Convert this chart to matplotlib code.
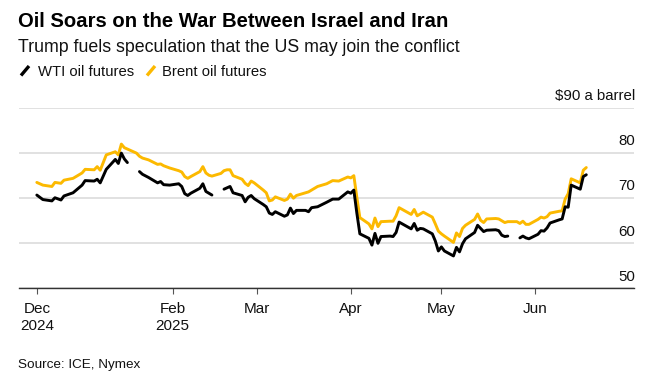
import numpy as np
import pandas as pd
import matplotlib
matplotlib.use("Agg")
import matplotlib.pyplot as plt
import matplotlib.dates as mdates
from matplotlib.lines import Line2D

plt.rcParams['font.family'] = ['Liberation Sans', 'DejaVu Sans']

fechas = [
    "2024-12-18", "2024-12-20", "2024-12-23", "2024-12-24", "2024-12-26", "2024-12-27", "2024-12-30",
    "2025-01-02", "2025-01-03", "2025-01-06", "2025-01-07", "2025-01-08", "2025-01-10", "2025-01-13",
    "2025-01-14", "2025-01-15", "2025-01-16", "2025-01-17", "2025-01-20", "2025-01-21", "2025-01-22",
    "2025-01-24", "2025-01-27", "2025-01-28", "2025-01-29", "2025-01-31",
    "2025-02-03", "2025-02-04", "2025-02-05", "2025-02-06", "2025-02-07", "2025-02-10", "2025-02-11",
    "2025-02-12", "2025-02-13", "2025-02-14", "2025-02-17", "2025-02-18", "2025-02-19", "2025-02-20",
    "2025-02-21", "2025-02-24", "2025-02-25", "2025-02-26", "2025-02-27", "2025-02-28",
    "2025-03-03", "2025-03-04", "2025-03-05", "2025-03-06", "2025-03-07", "2025-03-10", "2025-03-11",
    "2025-03-12", "2025-03-13", "2025-03-14", "2025-03-17", "2025-03-18", "2025-03-19", "2025-03-21",
    "2025-03-24", "2025-03-26", "2025-03-28", "2025-03-31",
    "2025-04-01", "2025-04-02", "2025-04-03", "2025-04-04", "2025-04-07", "2025-04-08", "2025-04-09",
    "2025-04-10", "2025-04-11", "2025-04-14", "2025-04-15", "2025-04-16", "2025-04-17", "2025-04-21",
    "2025-04-22", "2025-04-23", "2025-04-24", "2025-04-25", "2025-04-28", "2025-04-29", "2025-04-30",
    "2025-05-01", "2025-05-02", "2025-05-05", "2025-05-06", "2025-05-07", "2025-05-08", "2025-05-09",
    "2025-05-12", "2025-05-13", "2025-05-14", "2025-05-15", "2025-05-16", "2025-05-19", "2025-05-20",
    "2025-05-21", "2025-05-22", "2025-05-23", "2025-05-26", "2025-05-27", "2025-05-28", "2025-05-29",
    "2025-05-30",
    "2025-06-02", "2025-06-03", "2025-06-04", "2025-06-05", "2025-06-06", "2025-06-09", "2025-06-10",
    "2025-06-11", "2025-06-12", "2025-06-13", "2025-06-16", "2025-06-17", "2025-06-18",
]

# None = sin cotizacion (festivo en EEUU), el trazo se corta
wti = [
    70.7, 69.7, 69.4, 70.1, 69.6, 70.5, 71.2,
    72.9, 73.9, 73.8, 74.2, 73.4, 76.4, 78.6, 77.7, 80.0, 78.7, 77.9, None, 75.9, 75.3,
    74.6, 73.4, 73.7, 73.0, 72.9,
    73.2, 72.6, 71.0, 70.6, 71.1, 72.2, 73.2, 71.5, 71.1, 70.7, None, 72.0, 72.3, 72.6,
    71.2, 70.6, 69.2, 70.2, 70.6, 69.9,
    68.6, 68.1, 66.7, 66.4, 67.0, 66.0, 66.3, 67.8, 66.6, 67.3, 67.3, 67.0, 67.9, 68.1,
    69.1, 69.8, 69.8, 71.4,
    71.1, 71.8, 66.7, 62.1, 61.1, 59.6, 62.2, 60.0, 61.5, 61.6, 61.5, 62.4, 64.7, 63.2,
    64.4, 62.9, 63.3, 63.2, 62.1, 60.5, 58.3,
    59.2, 58.3, 57.2, 59.1, 58.1, 59.9, 61.0, 62.4, 64.0, 63.3, 62.6, 62.9, 63.0, 62.8,
    61.8, 61.5, 61.6, None, 61.2, 61.6, 61.2, 61.0,
    62.0, 62.8, 62.7, 63.4, 64.5, 65.2, 65.4, 68.1, 68.0, 72.9, 72.0, 74.8, 75.2,
]

brent = [
    73.5, 72.9, 72.6, 73.5, 73.3, 74.0, 74.4,
    75.6, 76.4, 76.3, 77.0, 76.2, 79.6, 80.3, 79.6, 82.0, 81.2, 80.9, 80.0, 79.3, 78.9,
    78.5, 77.5, 77.6, 77.2, 76.7,
    76.1, 75.8, 74.8, 74.4, 74.8, 75.9, 77.0, 75.6, 75.1, 74.9, 75.5, 76.1, 76.3, 76.3,
    75.0, 74.2, 73.3, 72.8, 73.8, 73.4,
    71.8, 71.2, 69.4, 69.6, 70.3, 69.5, 69.8, 70.9, 70.0, 70.6, 71.2, 71.4, 71.8, 72.6,
    73.2, 73.9, 73.8, 74.7,
    74.5, 75.0, 70.2, 65.7, 64.3, 63.2, 65.6, 63.7, 64.8, 64.9, 64.9, 66.1, 67.9, 66.4,
    67.5, 66.1, 66.5, 66.9, 65.8, 64.3, 62.7,
    62.1, 61.6, 60.2, 62.3, 61.5, 63.3, 64.0, 65.3, 66.5, 65.1, 64.6, 65.4, 65.5, 65.4,
    65.0, 64.6, 64.8, 64.8, 64.4, 64.9, 64.2, 64.2,
    65.3, 65.8, 65.6, 65.9, 66.7, 67.1, 67.2, 69.8, 71.0, 74.3, 73.4, 76.2, 76.8,
]

ticks_x = ["2024-12-18", "2025-02-01", "2025-03-01", "2025-04-01", "2025-05-01", "2025-06-01"]
etiquetas_x = ["Dec\n2024", "Feb\n2025", "Mar", "Apr", "May", "Jun"]
ticks_y = [50, 60, 70, 80, 90]
etiquetas_y = ["50", "60", "70", "80", "$90 a barrel"]

AMARILLO = "#fcb900"
W, H = 665, 380

def px(x, y):
    return x / W, 1 - y / H

fechas = pd.to_datetime(fechas)
wti = np.array([np.nan if v is None else v for v in wti], dtype=float)
brent = np.array(brent, dtype=float)

fig = plt.figure(figsize=(W / 100, H / 100), dpi=100)
ax = fig.add_axes([19 / W, (H - 288.4) / H, 615 / W, (288.4 - 108) / H])

ax.plot(fechas, brent, color=AMARILLO, lw=2.1, solid_joinstyle="round",
        solid_capstyle="round", zorder=3)
ax.plot(fechas, wti, color="black", lw=2.1, solid_joinstyle="round",
        solid_capstyle="round", zorder=4)

inicio = mdates.date2num(fechas[0])
ax.set_xlim(inicio - 5.9, inicio + 197.8)
ax.set_ylim(50, 90)

for spine in ["left", "right", "top"]:
    ax.spines[spine].set_visible(False)
ax.spines["bottom"].set_color("#333333")
ax.spines["bottom"].set_linewidth(1.0)

ax.set_yticks(ticks_y)
ax.set_yticklabels([])
ax.tick_params(axis="y", length=0)
ax.grid(axis="y", color="#d9d9d9", lw=1.1)
ax.set_axisbelow(True)

for v, txt in zip(ticks_y, etiquetas_y):
    ax.annotate(txt, xy=(1.0, v), xycoords=("axes fraction", "data"),
                xytext=(1, 5.6), textcoords="offset points",
                ha="right", va="baseline", fontsize=10.8, color="#111111")

ax.set_xticks(pd.to_datetime(ticks_x))
ax.set_xticklabels(etiquetas_x, fontsize=11, color="#111111", linespacing=1.25)
ax.tick_params(axis="x", length=4, width=0.8, color="#555555", pad=6)

fig.text(*px(18, 27), "Oil Soars on the War Between Israel and Iran",
         fontsize=14.6, fontweight="bold", va="baseline", ha="left")
fig.text(*px(18, 51.5), "Trump fuels speculation that the US may join the conflict",
         fontsize=12.8, va="baseline", ha="left", color="#111111")

fig.add_artist(Line2D([21 / W, 29 / W], [1 - 75.5 / H, 1 - 66 / H], color="black", lw=2.4,
                      solid_capstyle="butt", transform=fig.transFigure))
fig.text(*px(38, 76), "WTI oil futures", fontsize=10.7, va="baseline", ha="left", color="#111111")
fig.add_artist(Line2D([147 / W, 155 / W], [1 - 75.5 / H, 1 - 66 / H], color=AMARILLO, lw=2.4,
                      solid_capstyle="butt", transform=fig.transFigure))
fig.text(*px(162, 76), "Brent oil futures", fontsize=10.7, va="baseline", ha="left", color="#111111")

fig.text(*px(18, 368), "Source: ICE, Nymex", fontsize=9.7, va="baseline", ha="left", color="#111111")

fig.savefig("out.png", dpi=100)
